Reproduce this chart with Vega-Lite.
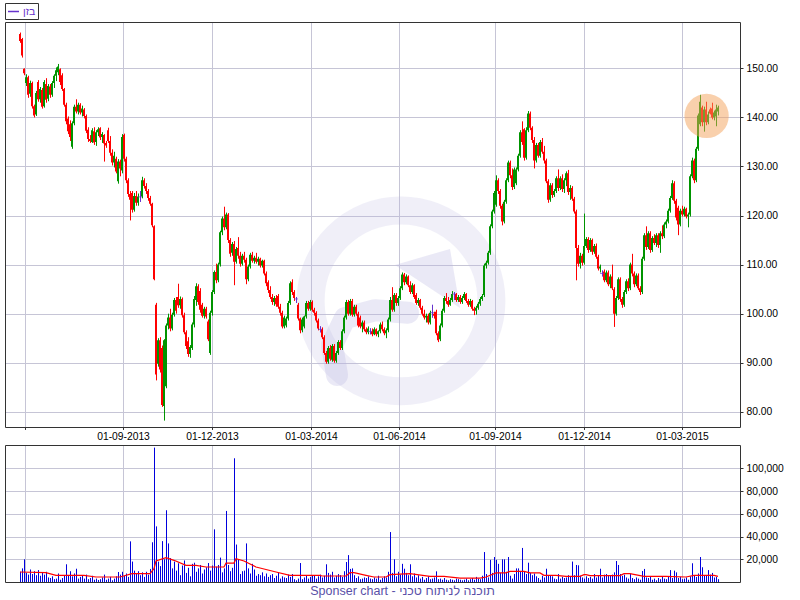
{
"$schema":"https://vega.github.io/schema/vega-lite/v6.json",
"width":735,"height":560,
"autosize":{"type":"none"},
"padding":{"left":5,"top":22,"right":60,"bottom":18},
"background":"#ffffff",
"title":{"text":"Sponser chart - תוכנה לניתוח טכני","orient":"bottom","anchor":"middle","frame":"group","dx":30,"fontSize":12.5,"fontWeight":"normal","color":"#5a50a8","font":"Liberation Sans","offset":2},
"datasets":{
"px":[
{"i":0,"o":157.0,"h":157.3,"l":155.2,"c":155.6,"v":9000},
{"i":1,"o":156.0,"h":156.2,"l":152.2,"c":152.6,"v":12000},
{"i":2,"o":149.9,"h":150.0,"l":148.6,"c":149.0,"v":20000},
{"i":3,"o":147.0,"h":148.8,"l":146.4,"c":148.2,"v":8000},
{"i":4,"o":148.2,"h":148.5,"l":144.0,"c":144.6,"v":6500},
{"i":5,"o":144.8,"h":147.5,"l":144.2,"c":147.0,"v":11000},
{"i":6,"o":147.0,"h":147.3,"l":141.8,"c":142.3,"v":7000},
{"i":7,"o":142.3,"h":142.6,"l":140.0,"c":140.4,"v":9500},
{"i":8,"o":140.6,"h":145.4,"l":140.3,"c":145.0,"v":6000},
{"i":9,"o":147.2,"h":147.6,"l":143.2,"c":143.7,"v":10500},
{"i":10,"o":143.7,"h":146.2,"l":143.0,"c":145.8,"v":5500},
{"i":11,"o":145.6,"h":146.0,"l":141.8,"c":142.2,"v":8000},
{"i":12,"o":142.3,"h":147.6,"l":142.0,"c":147.2,"v":6500},
{"i":13,"o":146.8,"h":148.0,"l":143.0,"c":143.6,"v":9000},
{"i":14,"o":143.8,"h":146.8,"l":143.3,"c":146.4,"v":4000},
{"i":15,"o":146.3,"h":146.8,"l":144.0,"c":144.6,"v":3500},
{"i":16,"o":144.6,"h":147.4,"l":144.2,"c":147.0,"v":5000},
{"i":17,"o":147.0,"h":148.8,"l":146.0,"c":148.5,"v":2500},
{"i":18,"o":148.5,"h":150.2,"l":147.4,"c":149.6,"v":3000},
{"i":19,"o":149.2,"h":150.9,"l":148.6,"c":150.4,"v":7500},
{"i":20,"o":149.8,"h":150.0,"l":146.6,"c":147.2,"v":2000},
{"i":21,"o":148.6,"h":149.0,"l":145.4,"c":145.8,"v":3500},
{"i":22,"o":145.8,"h":146.0,"l":142.2,"c":142.6,"v":5500},
{"i":23,"o":142.6,"h":143.0,"l":138.6,"c":139.2,"v":15600},
{"i":24,"o":139.8,"h":140.2,"l":136.6,"c":137.2,"v":6000},
{"i":25,"o":138.6,"h":139.4,"l":135.2,"c":136.0,"v":9500},
{"i":26,"o":134.0,"h":139.2,"l":133.6,"c":138.8,"v":5000},
{"i":27,"o":138.8,"h":142.6,"l":138.4,"c":142.2,"v":7500},
{"i":28,"o":142.2,"h":143.7,"l":140.8,"c":141.2,"v":11700},
{"i":29,"o":141.2,"h":143.0,"l":140.6,"c":142.6,"v":3000},
{"i":30,"o":142.6,"h":142.9,"l":140.6,"c":141.0,"v":4500},
{"i":31,"o":141.0,"h":142.4,"l":140.2,"c":141.8,"v":5500},
{"i":32,"o":141.6,"h":141.9,"l":139.8,"c":140.3,"v":3000},
{"i":33,"o":140.3,"h":140.6,"l":136.8,"c":137.3,"v":6500},
{"i":34,"o":137.5,"h":138.0,"l":135.0,"c":135.6,"v":2500},
{"i":35,"o":135.6,"h":136.4,"l":134.8,"c":135.2,"v":3500},
{"i":36,"o":135.0,"h":137.8,"l":134.8,"c":137.4,"v":5500},
{"i":37,"o":137.2,"h":138.0,"l":134.4,"c":134.9,"v":2000},
{"i":38,"o":135.0,"h":137.4,"l":134.2,"c":137.0,"v":3000},
{"i":39,"o":137.0,"h":138.0,"l":136.2,"c":137.6,"v":1800},
{"i":40,"o":137.8,"h":138.0,"l":135.4,"c":135.9,"v":2500},
{"i":41,"o":136.0,"h":137.0,"l":134.8,"c":136.6,"v":4000},
{"i":42,"o":136.4,"h":136.6,"l":131.0,"c":134.7,"v":6500},
{"i":43,"o":134.8,"h":135.2,"l":133.8,"c":134.3,"v":2000},
{"i":44,"o":137.4,"h":137.9,"l":134.8,"c":135.2,"v":3000},
{"i":45,"o":135.2,"h":136.2,"l":132.2,"c":132.8,"v":4500},
{"i":46,"o":132.8,"h":133.5,"l":130.2,"c":130.8,"v":1500},
{"i":47,"o":130.8,"h":133.0,"l":129.8,"c":132.2,"v":3000},
{"i":48,"o":131.6,"h":132.0,"l":128.6,"c":129.0,"v":5000},
{"i":49,"o":127.0,"h":131.5,"l":126.5,"c":131.0,"v":8800},
{"i":50,"o":131.0,"h":131.4,"l":128.0,"c":129.6,"v":6500},
{"i":51,"o":129.2,"h":136.6,"l":128.6,"c":136.0,"v":9000},
{"i":52,"o":136.4,"h":136.7,"l":131.0,"c":131.6,"v":5500},
{"i":53,"o":131.6,"h":132.0,"l":126.6,"c":127.2,"v":7500},
{"i":54,"o":127.2,"h":127.6,"l":123.8,"c":124.4,"v":4500},
{"i":55,"o":124.4,"h":125.0,"l":119.0,"c":123.2,"v":35800},
{"i":56,"o":124.6,"h":125.0,"l":120.6,"c":121.2,"v":18000},
{"i":57,"o":121.2,"h":124.6,"l":120.8,"c":124.0,"v":10000},
{"i":58,"o":124.0,"h":125.0,"l":122.0,"c":122.6,"v":7500},
{"i":59,"o":122.6,"h":124.5,"l":122.0,"c":123.9,"v":9500},
{"i":60,"o":123.8,"h":125.0,"l":122.8,"c":123.8,"v":6000},
{"i":61,"o":123.9,"h":127.9,"l":123.5,"c":127.2,"v":8500},
{"i":62,"o":127.2,"h":127.6,"l":125.5,"c":126.0,"v":4500},
{"i":63,"o":126.0,"h":126.6,"l":124.4,"c":125.0,"v":9000},
{"i":64,"o":125.0,"h":125.4,"l":123.0,"c":123.6,"v":6500},
{"i":65,"o":123.6,"h":124.0,"l":122.0,"c":122.4,"v":11500},
{"i":66,"o":122.4,"h":122.6,"l":117.6,"c":118.0,"v":35000},
{"i":67,"o":117.8,"h":118.0,"l":106.8,"c":107.0,"v":118400},
{"i":68,"o":101.8,"h":102.2,"l":86.4,"c":87.6,"v":49000},
{"i":69,"o":89.8,"h":95.0,"l":89.2,"c":94.6,"v":18000},
{"i":70,"o":94.6,"h":95.2,"l":88.0,"c":88.6,"v":14000},
{"i":71,"o":93.0,"h":93.5,"l":81.0,"c":81.4,"v":36000},
{"i":72,"o":81.2,"h":94.8,"l":78.2,"c":94.6,"v":20000},
{"i":73,"o":85.2,"h":98.0,"l":84.8,"c":97.6,"v":63200},
{"i":74,"o":97.6,"h":100.0,"l":96.8,"c":99.2,"v":34000},
{"i":75,"o":99.2,"h":101.0,"l":96.4,"c":97.0,"v":21000},
{"i":76,"o":97.0,"h":100.2,"l":96.6,"c":99.8,"v":12000},
{"i":77,"o":99.8,"h":103.2,"l":99.4,"c":102.8,"v":18000},
{"i":78,"o":102.8,"h":103.4,"l":100.0,"c":100.6,"v":10000},
{"i":79,"o":103.4,"h":106.1,"l":101.2,"c":101.7,"v":16500},
{"i":80,"o":101.7,"h":103.5,"l":101.0,"c":103.0,"v":6000},
{"i":81,"o":103.0,"h":103.3,"l":99.2,"c":99.7,"v":14500},
{"i":82,"o":99.7,"h":100.2,"l":95.8,"c":96.2,"v":19000},
{"i":83,"o":96.2,"h":96.6,"l":92.8,"c":93.4,"v":8000},
{"i":84,"o":94.4,"h":95.2,"l":91.2,"c":91.8,"v":12500},
{"i":85,"o":91.8,"h":93.6,"l":91.0,"c":93.2,"v":5000},
{"i":86,"o":93.0,"h":98.2,"l":92.6,"c":97.8,"v":16000},
{"i":87,"o":97.8,"h":103.6,"l":97.2,"c":103.0,"v":17000},
{"i":88,"o":102.8,"h":106.2,"l":101.6,"c":105.6,"v":9000},
{"i":89,"o":105.6,"h":106.0,"l":101.8,"c":102.4,"v":12000},
{"i":90,"o":104.6,"h":105.2,"l":100.2,"c":100.8,"v":15000},
{"i":91,"o":101.8,"h":102.2,"l":99.2,"c":99.6,"v":7500},
{"i":92,"o":99.6,"h":101.4,"l":99.0,"c":101.0,"v":11000},
{"i":93,"o":101.0,"h":101.4,"l":99.0,"c":99.4,"v":13000},
{"i":94,"o":98.4,"h":98.8,"l":94.4,"c":94.8,"v":16700},
{"i":95,"o":92.0,"h":100.6,"l":91.6,"c":100.2,"v":10000},
{"i":96,"o":100.2,"h":104.8,"l":99.6,"c":104.4,"v":14500},
{"i":97,"o":104.4,"h":108.8,"l":104.0,"c":108.5,"v":46400},
{"i":98,"o":108.5,"h":110.2,"l":106.2,"c":106.8,"v":13500},
{"i":99,"o":106.8,"h":110.4,"l":106.4,"c":110.0,"v":15000},
{"i":100,"o":110.0,"h":116.9,"l":109.6,"c":116.6,"v":21500},
{"i":101,"o":116.6,"h":119.8,"l":116.0,"c":119.4,"v":8500},
{"i":102,"o":119.4,"h":121.8,"l":117.0,"c":117.6,"v":12000},
{"i":103,"o":117.6,"h":120.6,"l":117.2,"c":120.2,"v":62600},
{"i":104,"o":120.2,"h":120.5,"l":114.4,"c":115.0,"v":15000},
{"i":105,"o":115.0,"h":115.4,"l":111.6,"c":112.2,"v":9500},
{"i":106,"o":112.4,"h":114.6,"l":111.8,"c":114.2,"v":12500},
{"i":107,"o":114.2,"h":114.8,"l":105.8,"c":110.6,"v":109000},
{"i":108,"o":110.6,"h":113.6,"l":110.2,"c":113.2,"v":33000},
{"i":109,"o":113.4,"h":115.6,"l":111.2,"c":111.8,"v":20000},
{"i":110,"o":111.8,"h":112.6,"l":109.6,"c":110.2,"v":7000},
{"i":111,"o":110.2,"h":112.2,"l":109.8,"c":111.8,"v":9500},
{"i":112,"o":111.8,"h":112.6,"l":110.4,"c":111.0,"v":10000},
{"i":113,"o":111.0,"h":111.4,"l":106.0,"c":107.0,"v":34000},
{"i":114,"o":107.0,"h":110.0,"l":106.6,"c":109.6,"v":12000},
{"i":115,"o":109.6,"h":112.4,"l":109.2,"c":112.0,"v":7500},
{"i":116,"o":112.0,"h":112.6,"l":110.4,"c":110.8,"v":16000},
{"i":117,"o":110.8,"h":111.8,"l":110.2,"c":111.4,"v":11000},
{"i":118,"o":111.4,"h":112.4,"l":110.2,"c":110.6,"v":5500},
{"i":119,"o":110.6,"h":111.6,"l":109.8,"c":111.2,"v":7000},
{"i":120,"o":111.2,"h":111.4,"l":109.4,"c":109.8,"v":6000},
{"i":121,"o":109.8,"h":111.0,"l":109.4,"c":110.8,"v":8500},
{"i":122,"o":110.8,"h":111.0,"l":107.8,"c":108.2,"v":5000},
{"i":123,"o":108.2,"h":108.6,"l":105.6,"c":106.2,"v":7500},
{"i":124,"o":106.4,"h":106.8,"l":104.2,"c":104.8,"v":4500},
{"i":125,"o":104.8,"h":105.6,"l":103.0,"c":103.4,"v":6000},
{"i":126,"o":103.4,"h":104.0,"l":101.8,"c":102.4,"v":7000},
{"i":127,"o":102.4,"h":103.6,"l":101.6,"c":103.2,"v":3500},
{"i":128,"o":103.2,"h":103.8,"l":101.4,"c":101.9,"v":5500},
{"i":129,"o":103.6,"h":104.0,"l":101.0,"c":101.4,"v":8000},
{"i":130,"o":101.4,"h":102.0,"l":99.6,"c":100.2,"v":3000},
{"i":131,"o":100.2,"h":100.6,"l":97.0,"c":97.4,"v":5000},
{"i":132,"o":97.4,"h":99.6,"l":97.0,"c":99.2,"v":4000},
{"i":133,"o":97.6,"h":99.4,"l":97.2,"c":99.0,"v":3500},
{"i":134,"o":99.0,"h":102.6,"l":98.6,"c":102.2,"v":6500},
{"i":135,"o":102.2,"h":106.6,"l":101.8,"c":106.2,"v":4500},
{"i":136,"o":106.4,"h":107.0,"l":103.8,"c":104.4,"v":7000},
{"i":137,"o":104.4,"h":104.8,"l":102.6,"c":103.2,"v":2500},
{"i":138,"o":103.0,"h":103.4,"l":102.2,"c":103.0,"v":1500},
{"i":139,"o":101.8,"h":102.2,"l":98.6,"c":99.0,"v":3000},
{"i":140,"o":99.0,"h":99.2,"l":96.0,"c":96.6,"v":16700},
{"i":141,"o":96.6,"h":99.2,"l":96.2,"c":98.8,"v":2500},
{"i":142,"o":97.4,"h":99.6,"l":97.0,"c":99.4,"v":4000},
{"i":143,"o":99.4,"h":102.6,"l":99.0,"c":102.2,"v":5500},
{"i":144,"o":102.2,"h":102.6,"l":100.6,"c":101.0,"v":3000},
{"i":145,"o":101.0,"h":102.8,"l":100.6,"c":102.4,"v":4500},
{"i":146,"o":102.4,"h":102.7,"l":100.4,"c":100.8,"v":6000},
{"i":147,"o":100.8,"h":101.2,"l":99.6,"c":100.2,"v":5500},
{"i":148,"o":100.2,"h":100.5,"l":98.2,"c":98.6,"v":3000},
{"i":149,"o":98.6,"h":99.0,"l":96.6,"c":97.0,"v":5000},
{"i":150,"o":96.8,"h":97.4,"l":96.2,"c":96.8,"v":6500},
{"i":151,"o":96.8,"h":97.2,"l":94.8,"c":95.2,"v":4000},
{"i":152,"o":95.2,"h":95.6,"l":91.6,"c":92.0,"v":5500},
{"i":153,"o":92.0,"h":92.4,"l":89.8,"c":90.2,"v":15600},
{"i":154,"o":90.2,"h":93.4,"l":89.8,"c":93.0,"v":8000},
{"i":155,"o":93.0,"h":93.6,"l":90.4,"c":90.8,"v":6500},
{"i":156,"o":90.6,"h":93.8,"l":90.2,"c":93.4,"v":9000},
{"i":157,"o":93.4,"h":93.8,"l":90.0,"c":90.4,"v":4000},
{"i":158,"o":90.4,"h":92.4,"l":90.0,"c":92.0,"v":5500},
{"i":159,"o":92.0,"h":94.6,"l":91.6,"c":94.2,"v":7000},
{"i":160,"o":94.2,"h":94.6,"l":92.6,"c":93.0,"v":6000},
{"i":161,"o":93.0,"h":96.8,"l":92.6,"c":96.4,"v":4500},
{"i":162,"o":96.4,"h":99.6,"l":96.0,"c":99.2,"v":9500},
{"i":163,"o":99.2,"h":102.8,"l":98.8,"c":102.4,"v":17600},
{"i":164,"o":102.4,"h":102.8,"l":99.6,"c":100.0,"v":23700},
{"i":165,"o":100.0,"h":103.0,"l":99.6,"c":102.6,"v":11500},
{"i":166,"o":102.6,"h":103.0,"l":99.4,"c":99.8,"v":12000},
{"i":167,"o":99.8,"h":101.8,"l":99.4,"c":101.4,"v":6000},
{"i":168,"o":101.4,"h":101.8,"l":99.6,"c":100.0,"v":3500},
{"i":169,"o":100.0,"h":100.4,"l":97.2,"c":97.6,"v":5000},
{"i":170,"o":99.2,"h":99.6,"l":97.0,"c":97.4,"v":2500},
{"i":171,"o":97.4,"h":98.6,"l":96.2,"c":98.2,"v":3000},
{"i":172,"o":98.2,"h":98.6,"l":96.4,"c":96.8,"v":4000},
{"i":173,"o":96.8,"h":97.2,"l":95.8,"c":96.2,"v":3500},
{"i":174,"o":96.2,"h":97.4,"l":95.8,"c":97.0,"v":5000},
{"i":175,"o":96.4,"h":97.0,"l":95.8,"c":96.4,"v":3000},
{"i":176,"o":96.4,"h":97.0,"l":95.4,"c":95.8,"v":2500},
{"i":177,"o":95.8,"h":97.2,"l":95.6,"c":96.8,"v":4000},
{"i":178,"o":96.8,"h":97.0,"l":95.4,"c":95.8,"v":3000},
{"i":179,"o":95.8,"h":96.6,"l":95.2,"c":96.4,"v":5500},
{"i":180,"o":96.4,"h":98.2,"l":96.0,"c":97.8,"v":2000},
{"i":181,"o":97.8,"h":98.4,"l":96.4,"c":96.8,"v":3500},
{"i":182,"o":96.8,"h":97.2,"l":95.6,"c":96.0,"v":5000},
{"i":183,"o":96.0,"h":97.0,"l":95.0,"c":96.6,"v":4000},
{"i":184,"o":96.6,"h":99.2,"l":96.2,"c":98.8,"v":9000},
{"i":185,"o":98.8,"h":103.4,"l":98.4,"c":102.8,"v":44000},
{"i":186,"o":102.8,"h":105.4,"l":100.4,"c":100.8,"v":8000},
{"i":187,"o":100.8,"h":104.2,"l":100.4,"c":103.8,"v":20000},
{"i":188,"o":103.8,"h":104.2,"l":101.6,"c":102.2,"v":5000},
{"i":189,"o":102.2,"h":103.6,"l":101.6,"c":103.2,"v":9000},
{"i":190,"o":103.2,"h":105.6,"l":102.8,"c":105.2,"v":6500},
{"i":191,"o":105.2,"h":108.4,"l":104.8,"c":108.0,"v":16000},
{"i":192,"o":108.0,"h":108.3,"l":105.8,"c":106.4,"v":11700},
{"i":193,"o":106.4,"h":108.0,"l":106.0,"c":107.6,"v":8000},
{"i":194,"o":107.6,"h":107.8,"l":105.4,"c":105.8,"v":6000},
{"i":195,"o":105.8,"h":106.6,"l":104.0,"c":104.4,"v":15600},
{"i":196,"o":104.4,"h":106.2,"l":104.0,"c":105.8,"v":5000},
{"i":197,"o":105.8,"h":106.0,"l":103.0,"c":103.4,"v":7500},
{"i":198,"o":103.8,"h":104.2,"l":101.8,"c":102.2,"v":4000},
{"i":199,"o":102.2,"h":103.2,"l":101.6,"c":102.8,"v":6000},
{"i":200,"o":102.8,"h":103.0,"l":100.8,"c":101.2,"v":3000},
{"i":201,"o":101.2,"h":101.6,"l":99.6,"c":100.0,"v":4500},
{"i":202,"o":100.0,"h":100.8,"l":98.8,"c":99.2,"v":2000},
{"i":203,"o":99.2,"h":100.0,"l":98.2,"c":99.6,"v":3500},
{"i":204,"o":99.6,"h":100.0,"l":97.8,"c":98.2,"v":5000},
{"i":205,"o":98.2,"h":100.6,"l":97.8,"c":100.2,"v":2500},
{"i":206,"o":100.2,"h":101.8,"l":99.2,"c":100.2,"v":3000},
{"i":207,"o":100.0,"h":100.4,"l":99.0,"c":99.6,"v":4000},
{"i":208,"o":100.4,"h":100.8,"l":95.6,"c":96.0,"v":9400},
{"i":209,"o":96.0,"h":96.4,"l":94.2,"c":94.6,"v":2500},
{"i":210,"o":94.8,"h":98.0,"l":94.4,"c":97.6,"v":3000},
{"i":211,"o":97.6,"h":101.0,"l":97.2,"c":100.6,"v":2000},
{"i":212,"o":100.6,"h":103.6,"l":100.2,"c":103.2,"v":3500},
{"i":213,"o":103.2,"h":104.2,"l":102.0,"c":102.6,"v":2000},
{"i":214,"o":102.6,"h":103.4,"l":101.4,"c":101.8,"v":1500},
{"i":215,"o":101.8,"h":103.2,"l":101.6,"c":102.8,"v":2500},
{"i":216,"o":102.8,"h":104.6,"l":102.4,"c":104.0,"v":2000},
{"i":217,"o":104.0,"h":104.4,"l":102.8,"c":104.0,"v":1500},
{"i":218,"o":104.0,"h":104.2,"l":102.4,"c":102.8,"v":3000},
{"i":219,"o":102.8,"h":103.8,"l":102.4,"c":103.4,"v":2500},
{"i":220,"o":103.4,"h":103.8,"l":102.0,"c":102.4,"v":2000},
{"i":221,"o":102.4,"h":103.6,"l":102.0,"c":103.2,"v":1500},
{"i":222,"o":103.2,"h":104.4,"l":102.8,"c":104.0,"v":2000},
{"i":223,"o":104.0,"h":104.2,"l":102.2,"c":102.6,"v":3000},
{"i":224,"o":102.6,"h":103.0,"l":101.4,"c":101.8,"v":1500},
{"i":225,"o":101.8,"h":103.0,"l":101.4,"c":102.6,"v":2500},
{"i":226,"o":102.6,"h":102.8,"l":100.6,"c":101.0,"v":3500},
{"i":227,"o":101.0,"h":101.4,"l":99.7,"c":100.6,"v":2000},
{"i":228,"o":100.6,"h":101.6,"l":99.8,"c":101.2,"v":4500},
{"i":229,"o":101.2,"h":102.4,"l":100.8,"c":102.0,"v":3000},
{"i":230,"o":102.0,"h":103.4,"l":101.6,"c":103.0,"v":2500},
{"i":231,"o":103.0,"h":104.0,"l":102.6,"c":103.6,"v":5500},
{"i":232,"o":103.8,"h":110.2,"l":103.4,"c":109.8,"v":26400},
{"i":233,"o":109.8,"h":110.8,"l":109.2,"c":110.4,"v":7000},
{"i":234,"o":110.4,"h":112.8,"l":110.0,"c":112.4,"v":4000},
{"i":235,"o":112.4,"h":118.2,"l":112.0,"c":117.8,"v":19500},
{"i":236,"o":117.8,"h":121.2,"l":117.4,"c":120.8,"v":8000},
{"i":237,"o":120.8,"h":125.0,"l":120.4,"c":124.6,"v":22000},
{"i":238,"o":122.2,"h":128.2,"l":121.8,"c":127.2,"v":19500},
{"i":239,"o":127.2,"h":127.6,"l":124.4,"c":125.0,"v":16000},
{"i":240,"o":125.0,"h":125.4,"l":121.4,"c":122.0,"v":8000},
{"i":241,"o":122.0,"h":122.4,"l":118.0,"c":118.8,"v":20000},
{"i":242,"o":118.8,"h":123.2,"l":118.4,"c":122.8,"v":20000},
{"i":243,"o":122.8,"h":127.6,"l":122.4,"c":127.2,"v":9000},
{"i":244,"o":127.2,"h":131.2,"l":126.8,"c":130.8,"v":22000},
{"i":245,"o":130.8,"h":131.2,"l":127.6,"c":128.2,"v":5500},
{"i":246,"o":128.2,"h":129.6,"l":125.2,"c":125.8,"v":3000},
{"i":247,"o":125.8,"h":129.8,"l":125.4,"c":129.4,"v":7000},
{"i":248,"o":126.6,"h":129.8,"l":126.2,"c":129.4,"v":12000},
{"i":249,"o":129.4,"h":132.6,"l":129.0,"c":132.2,"v":12000},
{"i":250,"o":132.2,"h":137.4,"l":131.8,"c":137.0,"v":9000},
{"i":251,"o":137.0,"h":139.2,"l":134.4,"c":135.0,"v":30000},
{"i":252,"o":137.6,"h":137.8,"l":131.2,"c":131.8,"v":9000},
{"i":253,"o":131.8,"h":138.0,"l":131.4,"c":137.4,"v":7000},
{"i":254,"o":137.4,"h":141.3,"l":137.0,"c":140.8,"v":17000},
{"i":255,"o":140.8,"h":141.2,"l":137.4,"c":137.9,"v":8000},
{"i":256,"o":137.9,"h":138.2,"l":134.8,"c":135.4,"v":6000},
{"i":257,"o":135.4,"h":136.0,"l":129.6,"c":131.2,"v":7500},
{"i":258,"o":131.2,"h":134.8,"l":130.8,"c":134.4,"v":5000},
{"i":259,"o":134.4,"h":134.8,"l":131.8,"c":132.2,"v":3500},
{"i":260,"o":132.2,"h":135.4,"l":131.8,"c":135.0,"v":2000},
{"i":261,"o":135.0,"h":135.8,"l":132.6,"c":133.0,"v":5500},
{"i":262,"o":133.0,"h":134.2,"l":130.6,"c":131.2,"v":4000},
{"i":263,"o":131.2,"h":131.6,"l":126.6,"c":127.0,"v":11700},
{"i":264,"o":127.0,"h":127.4,"l":122.6,"c":123.2,"v":5500},
{"i":265,"o":123.2,"h":126.6,"l":122.8,"c":126.2,"v":6000},
{"i":266,"o":126.2,"h":126.6,"l":123.6,"c":124.2,"v":5000},
{"i":267,"o":124.2,"h":125.4,"l":123.8,"c":125.0,"v":3000},
{"i":268,"o":125.0,"h":128.0,"l":124.6,"c":127.6,"v":2500},
{"i":269,"o":127.6,"h":129.4,"l":125.0,"c":125.6,"v":7000},
{"i":270,"o":125.6,"h":128.0,"l":125.2,"c":127.6,"v":3000},
{"i":271,"o":127.6,"h":128.4,"l":124.8,"c":125.4,"v":4500},
{"i":272,"o":125.4,"h":127.6,"l":124.6,"c":127.2,"v":3500},
{"i":273,"o":127.2,"h":129.0,"l":126.0,"c":128.6,"v":4000},
{"i":274,"o":128.6,"h":129.3,"l":124.2,"c":124.8,"v":6000},
{"i":275,"o":124.8,"h":126.2,"l":123.2,"c":125.6,"v":4500},
{"i":276,"o":125.6,"h":126.0,"l":123.0,"c":123.4,"v":18000},
{"i":277,"o":123.4,"h":123.8,"l":120.4,"c":120.8,"v":6000},
{"i":278,"o":120.8,"h":121.2,"l":106.8,"c":113.4,"v":15000},
{"i":279,"o":113.4,"h":114.0,"l":109.6,"c":110.2,"v":14700},
{"i":280,"o":110.2,"h":112.4,"l":109.2,"c":111.8,"v":5500},
{"i":281,"o":111.8,"h":112.2,"l":109.8,"c":110.4,"v":4000},
{"i":282,"o":110.4,"h":120.4,"l":110.0,"c":113.8,"v":3000},
{"i":283,"o":113.8,"h":115.6,"l":113.4,"c":115.2,"v":5000},
{"i":284,"o":115.2,"h":115.6,"l":112.4,"c":113.0,"v":3500},
{"i":285,"o":113.0,"h":115.4,"l":112.6,"c":115.0,"v":4500},
{"i":286,"o":115.0,"h":115.3,"l":112.0,"c":112.6,"v":3000},
{"i":287,"o":112.6,"h":114.2,"l":112.2,"c":113.8,"v":7000},
{"i":288,"o":113.8,"h":114.3,"l":111.2,"c":111.6,"v":4000},
{"i":289,"o":111.6,"h":112.0,"l":108.8,"c":109.2,"v":5500},
{"i":290,"o":109.2,"h":110.0,"l":108.4,"c":109.6,"v":11700},
{"i":291,"o":108.2,"h":108.8,"l":107.6,"c":108.2,"v":4000},
{"i":292,"o":108.6,"h":109.0,"l":106.4,"c":106.8,"v":6500},
{"i":293,"o":106.8,"h":108.8,"l":106.4,"c":108.4,"v":7000},
{"i":294,"o":108.4,"h":108.8,"l":105.6,"c":106.0,"v":6000},
{"i":295,"o":106.0,"h":108.0,"l":105.2,"c":107.6,"v":5500},
{"i":296,"o":107.6,"h":110.0,"l":104.8,"c":105.2,"v":6500},
{"i":297,"o":105.0,"h":105.4,"l":97.3,"c":100.0,"v":8500},
{"i":298,"o":100.0,"h":103.6,"l":99.6,"c":103.2,"v":18500},
{"i":299,"o":103.2,"h":107.4,"l":102.8,"c":107.0,"v":15000},
{"i":300,"o":107.0,"h":107.4,"l":102.4,"c":103.0,"v":7000},
{"i":301,"o":103.0,"h":103.4,"l":101.2,"c":101.8,"v":5500},
{"i":302,"o":101.8,"h":104.8,"l":101.4,"c":104.4,"v":6500},
{"i":303,"o":104.4,"h":107.0,"l":104.0,"c":106.6,"v":4000},
{"i":304,"o":106.6,"h":107.2,"l":104.6,"c":105.2,"v":3000},
{"i":305,"o":105.2,"h":110.4,"l":104.8,"c":110.0,"v":7000},
{"i":306,"o":110.0,"h":112.2,"l":107.6,"c":108.2,"v":3500},
{"i":307,"o":108.2,"h":108.6,"l":105.4,"c":106.0,"v":2500},
{"i":308,"o":106.0,"h":108.2,"l":105.6,"c":107.8,"v":4000},
{"i":309,"o":107.8,"h":108.2,"l":104.8,"c":105.2,"v":3000},
{"i":310,"o":105.2,"h":105.6,"l":103.8,"c":104.4,"v":2000},
{"i":311,"o":104.4,"h":111.6,"l":104.0,"c":111.2,"v":9700},
{"i":312,"o":111.2,"h":116.4,"l":110.8,"c":116.0,"v":11500},
{"i":313,"o":116.0,"h":117.8,"l":113.0,"c":113.6,"v":4000},
{"i":314,"o":113.6,"h":116.8,"l":113.2,"c":116.4,"v":3500},
{"i":315,"o":116.4,"h":116.8,"l":112.4,"c":113.0,"v":5000},
{"i":316,"o":113.0,"h":115.8,"l":112.6,"c":115.4,"v":2000},
{"i":317,"o":115.4,"h":116.2,"l":114.0,"c":114.4,"v":3000},
{"i":318,"o":114.4,"h":116.4,"l":113.6,"c":116.0,"v":1500},
{"i":319,"o":116.0,"h":116.4,"l":113.4,"c":114.0,"v":3500},
{"i":320,"o":114.0,"h":116.8,"l":112.4,"c":116.4,"v":2500},
{"i":321,"o":116.4,"h":118.0,"l":115.2,"c":115.8,"v":4500},
{"i":322,"o":115.8,"h":118.6,"l":115.4,"c":118.2,"v":3000},
{"i":323,"o":118.2,"h":119.2,"l":117.4,"c":118.8,"v":2500},
{"i":324,"o":118.8,"h":121.4,"l":118.4,"c":121.0,"v":5000},
{"i":325,"o":121.0,"h":124.0,"l":120.6,"c":123.6,"v":10500},
{"i":326,"o":123.6,"h":127.2,"l":123.2,"c":126.6,"v":3500},
{"i":327,"o":126.6,"h":127.0,"l":122.4,"c":123.0,"v":10000},
{"i":328,"o":123.0,"h":123.4,"l":119.0,"c":119.6,"v":8500},
{"i":329,"o":121.6,"h":122.0,"l":116.0,"c":118.2,"v":3500},
{"i":330,"o":118.2,"h":121.4,"l":117.8,"c":121.0,"v":4500},
{"i":331,"o":121.0,"h":122.0,"l":119.8,"c":120.2,"v":2500},
{"i":332,"o":120.2,"h":121.8,"l":119.8,"c":121.4,"v":3000},
{"i":333,"o":121.4,"h":121.6,"l":119.4,"c":119.8,"v":4000},
{"i":334,"o":119.8,"h":120.6,"l":117.6,"c":120.2,"v":2000},
{"i":335,"o":120.2,"h":128.4,"l":119.8,"c":128.0,"v":5000},
{"i":336,"o":128.0,"h":131.8,"l":127.6,"c":131.2,"v":16500},
{"i":337,"o":131.2,"h":131.6,"l":126.6,"c":127.2,"v":6000},
{"i":338,"o":127.2,"h":134.0,"l":126.8,"c":133.6,"v":4500},
{"i":339,"o":133.6,"h":140.8,"l":133.2,"c":140.4,"v":7500},
{"i":340,"o":138.6,"h":144.6,"l":138.2,"c":143.2,"v":22000},
{"i":341,"o":142.0,"h":142.4,"l":138.2,"c":139.0,"v":13000},
{"i":342,"o":139.0,"h":142.2,"l":137.1,"c":141.6,"v":6000},
{"i":343,"o":141.6,"h":143.2,"l":138.4,"c":139.0,"v":5500},
{"i":344,"o":139.0,"h":141.2,"l":138.6,"c":140.6,"v":10500},
{"i":345,"o":141.6,"h":142.0,"l":140.6,"c":140.8,"v":6500},
{"i":346,"o":141.8,"h":143.0,"l":139.6,"c":140.0,"v":8000},
{"i":347,"o":140.0,"h":141.4,"l":139.4,"c":141.0,"v":4000},
{"i":348,"o":140.2,"h":142.6,"l":138.2,"c":141.6,"v":4500},
{"i":349,"o":141.2,"h":142.4,"l":140.4,"c":142.0,"v":2500}
],
"ma":[
{"i":0,"m":8800},{"i":13,"m":8200},{"i":18,"m":5900},{"i":32,"m":5900},{"i":38,"m":4400},{"i":50,"m":4400},{"i":56,"m":7300},{"i":65,"m":7300},{"i":67,"m":11700},{"i":68,"m":18500},{"i":73,"m":21400},{"i":77,"m":19100},{"i":83,"m":14700},{"i":88,"m":14700},{"i":93,"m":13200},{"i":102,"m":13200},{"i":103,"m":16700},{"i":107,"m":16700},{"i":108,"m":20500},{"i":112,"m":18500},{"i":118,"m":13200},{"i":128,"m":8800},{"i":135,"m":5900},{"i":150,"m":5900},{"i":151,"m":5300},{"i":163,"m":5300},{"i":165,"m":8200},{"i":167,"m":8200},{"i":173,"m":5900},{"i":177,"m":4400},{"i":183,"m":4400},{"i":185,"m":6500},{"i":195,"m":7300},{"i":205,"m":5000},{"i":212,"m":5000},{"i":220,"m":3500},{"i":230,"m":3500},{"i":233,"m":4400},{"i":238,"m":8000},{"i":243,"m":8000},{"i":245,"m":9400},{"i":252,"m":9400},{"i":255,"m":8000},{"i":260,"m":8000},{"i":262,"m":5900},{"i":268,"m":5900},{"i":273,"m":5000},{"i":280,"m":5000},{"i":282,"m":6500},{"i":283,"m":6500},{"i":285,"m":5600},{"i":300,"m":5600},{"i":302,"m":7300},{"i":305,"m":7300},{"i":312,"m":5000},{"i":323,"m":5000},{"i":333,"m":4400},{"i":337,"m":5900},{"i":347,"m":5900},{"i":349,"m":5000}
],
"xt":[
{"x":2.75,"t":""},{"x":51.75,"t":"01-09-2013"},{"x":96.25,"t":"01-12-2013"},{"x":145.75,"t":"01-03-2014"},{"x":189.75,"t":"01-06-2014"},{"x":237.75,"t":"01-09-2014"},{"x":282.25,"t":"01-12-2014"},{"x":331.25,"t":"01-03-2015"}
],
"wm":[
{"k":0,"i":158.5,"p":87.5},{"k":1,"i":156,"p":93.6},{"k":2,"i":162.5,"p":99.1},{"k":3,"i":177.5,"p":100.7},{"k":4,"i":194,"p":100.2}
],
"ring":[{"i":190.5,"p":102.6}],
"head":[{"i":207.5,"p":108.1}],
"hl":[{"i":343.3,"p":140.3}]
},
"resolve":{"scale":{"y":"independent"}},
"layer":[
{"layer":[
{"data":{"name":"xt"},
 "mark":{"type":"rule","color":"#c6c5d6","strokeWidth":1},
 "encoding":{
  "x":{"field":"x","type":"quantitative","title":null,"axis":null,"scale":{"domain":[-7.5,360],"nice":false,"zero":false,"padding":0}},
  "y":{"datum":76.9,"type":"quantitative","scale":{"domain":[76.9,159.45],"range":[405,0],"nice":false,"zero":false}},
  "y2":{"datum":159.45}
 }},
{"data":{"name":"ring"},
 "mark":{"type":"point","filled":false,"stroke":"#b9b6e0","strokeWidth":28,"size":32685,"strokeOpacity":0.3},
 "encoding":{
  "x":{"field":"i","type":"quantitative","title":null,"axis":null},
  "y":{"field":"p","type":"quantitative","title":null,"scale":{"domain":[76.9,159.45],"range":[405,0],"nice":false,"zero":false},
   "axis":{"orient":"right","values":[80,90,100,110,120,130,140,150],"format":".2f","tickSize":3,"labelPadding":3,"domain":false,"grid":true,"labelOverlap":false}}
 }},
{"data":{"name":"wm"},
 "mark":{"type":"line","stroke":"#b9b6e0","strokeWidth":22,"strokeCap":"round","strokeJoin":"round","strokeOpacity":0.3},
 "encoding":{
  "x":{"field":"i","type":"quantitative","title":null,"axis":null},
  "y":{"field":"p","type":"quantitative","title":null},
  "order":{"field":"k","type":"quantitative"}
 }},
{"data":{"name":"head"},
 "mark":{"type":"point","shape":"M0.375,-0.625L-1,-0.225L0.625,0.85Z","filled":true,"fill":"#b9b6e0","fillOpacity":0.3,"strokeWidth":0,"size":6400},
 "encoding":{
  "x":{"field":"i","type":"quantitative","title":null,"axis":null},
  "y":{"field":"p","type":"quantitative","title":null}
 }},
{"data":{"name":"px"},
 "mark":{"type":"rule","strokeWidth":1,"xOffset":0.5},
 "encoding":{
  "x":{"field":"i","type":"quantitative","title":null,"axis":null},
  "y":{"field":"l","type":"quantitative","title":null},
  "y2":{"field":"h"},
  "color":{"condition":[{"test":"datum.c > datum.o","value":"#009400"},{"test":"datum.c < datum.o","value":"#ff0000"}],"value":"#6633cc"}
 }},
{"data":{"name":"px"},
 "transform":[{"filter":"datum.o != datum.c"}],
 "mark":{"type":"bar","size":2},
 "encoding":{
  "x":{"field":"i","type":"quantitative","title":null,"axis":null},
  "y":{"field":"o","type":"quantitative","title":null},
  "y2":{"field":"c"},
  "color":{"condition":[{"test":"datum.c > datum.o","value":"#009400"}],"value":"#ff0000"}
 }},
{"data":{"name":"px"},
 "transform":[{"filter":"datum.o == datum.c"}],
 "mark":{"type":"rule","strokeWidth":1,"xOffset":0.5},
 "encoding":{
  "x":{"field":"i","type":"quantitative","title":null,"axis":null},
  "y":{"field":"l","type":"quantitative","title":null},
  "y2":{"field":"h"},
  "color":{"datum":"בזן","type":"nominal","scale":{"domain":["בזן"],"range":["#6633cc"]},
   "legend":{"orient":"none","legendX":0,"legendY":-19,"title":null,"symbolType":"stroke","symbolSize":121,"symbolStrokeWidth":1.5,"strokeColor":"#333","fillColor":"#ffffff","padding":2,"labelColor":"#6633cc","labelFontSize":10.5,"labelFont":"Liberation Sans","labelOffset":3}}
 }},
{"data":{"name":"px"},
 "transform":[{"filter":"datum.o == datum.c"}],
 "mark":{"type":"tick","orient":"horizontal","thickness":1,"size":4,"color":"#6633cc"},
 "encoding":{
  "x":{"field":"i","type":"quantitative","title":null,"axis":null},
  "y":{"field":"c","type":"quantitative","title":null}
 }},
{"data":{"name":"hl"},
 "mark":{"type":"point","filled":true,"fill":"#f4a25a","fillOpacity":0.5,"strokeWidth":0,"size":1963},
 "encoding":{
  "x":{"field":"i","type":"quantitative","title":null,"axis":null},
  "y":{"field":"p","type":"quantitative","title":null}
 }},
{"data":{"name":"xt"},
 "mark":{"type":"rule","color":"#333","strokeWidth":1},
 "encoding":{
  "x":{"field":"x","type":"quantitative","title":null,"axis":null},
  "y":{"datum":76.9,"type":"quantitative"},
  "y2":{"datum":76.3}
 }},
{"data":{"name":"xt"},
 "mark":{"type":"text","baseline":"top","align":"center","dy":5,"fontSize":10.3,"font":"Liberation Sans","color":"#000"},
 "encoding":{
  "x":{"field":"x","type":"quantitative","title":null,"axis":null},
  "y":{"datum":76.9,"type":"quantitative"},
  "text":{"field":"t"}
 }},
{"data":{"name":"ring"},
 "mark":{"type":"rect","filled":false,"color":"#333","strokeWidth":1,"xOffset":0.5,"x2Offset":0.5,"yOffset":0.5,"y2Offset":0.5},
 "encoding":{
  "x":{"datum":-7.5,"type":"quantitative","axis":null},
  "x2":{"datum":360},
  "y":{"datum":76.9,"type":"quantitative"},
  "y2":{"datum":159.45}
 }}
]},
{"layer":[
{"data":{"name":"xt"},
 "mark":{"type":"rule","color":"#c6c5d6","strokeWidth":1},
 "encoding":{
  "x":{"field":"x","type":"quantitative","title":null,"axis":null},
  "y":{"datum":0,"type":"quantitative","scale":{"domain":[0,120700],"range":[560,423],"nice":false,"zero":false}},
  "y2":{"datum":120700}
 }},
{"data":{"name":"px"},
 "mark":{"type":"rule","strokeWidth":1,"color":"#0000dd","xOffset":0.5},
 "encoding":{
  "x":{"field":"i","type":"quantitative","title":null,"axis":null},
  "y":{"field":"v","type":"quantitative","title":null,"scale":{"domain":[0,120700],"range":[560,423],"nice":false,"zero":false},
   "axis":{"orient":"right","values":[20000,40000,60000,80000,100000],"format":",d","tickSize":3,"labelPadding":3,"domain":false,"grid":true,"labelOverlap":false}},
  "y2":{"datum":0}
 }},
{"data":{"name":"ma"},
 "mark":{"type":"line","color":"#ff0000","strokeWidth":1.2},
 "encoding":{
  "x":{"field":"i","type":"quantitative","title":null,"axis":null},
  "y":{"field":"m","type":"quantitative","title":null}
 }},
{"data":{"name":"ring"},
 "mark":{"type":"rect","filled":false,"color":"#333","strokeWidth":1,"xOffset":0.5,"x2Offset":0.5,"yOffset":0.5,"y2Offset":0.5},
 "encoding":{
  "x":{"datum":-7.5,"type":"quantitative","axis":null},
  "x2":{"datum":360},
  "y":{"datum":0,"type":"quantitative"},
  "y2":{"datum":120700}
 }}
]}
],
"config":{
 "view":{"stroke":null},
 "scale":{"continuousPadding":0},
 "axis":{"labelFont":"Liberation Sans","labelFontSize":10.3,"labelColor":"#000","gridColor":"#c6c5d6","gridWidth":1,"tickColor":"#333","domain":false}
}
}
